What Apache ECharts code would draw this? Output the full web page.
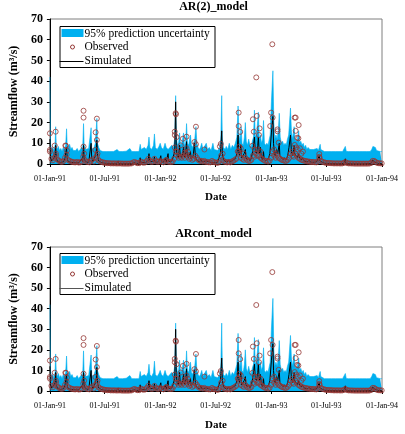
<!DOCTYPE html>
<html><head><meta charset="utf-8">
<script src="https://cdn.jsdelivr.net/npm/echarts@6/dist/echarts.min.js"></script>
<style>html,body{margin:0;padding:0;background:#fff}#c{width:405px;height:434px}</style>
</head><body><div id="c"></div>
<script>
// ---------------- data ----------------
const startDate = '1991-01-01';
const endDate = '1994-01-01';
const tickDates = ['1991-01-01','1991-07-01','1992-01-01','1992-07-01','1993-01-01','1993-07-01','1994-01-01'];
const tickLabels = ['01-Jan-91','01-Jul-91','01-Jan-92','01-Jul-92','01-Jan-93','01-Jul-93','01-Jan-94'];
const panelTitles = ['AR(2)_model', 'ARcont_model'];
const legendNames = ['95% prediction uncertainty', 'Observed', 'Simulated'];
const yTicks = [0, 10, 20, 30, 40, 50, 60, 70];

// upper limit of 95% prediction band: [day since start, m3/s]
const upperBand = [[0,42],[2,10],[5,7],[9,8],[13,6.5],[17,9],[19,18],[21,9],[24,7],[28,8.5],[32,6.5],[36,7.5],[40,6],[44,8],[48,7],[52,9],[55,17],[57,9],[61,8],[65,9.5],[69,7],[73,8],[77,6.5],[81,7],[85,6.5],[90,7.5],[95,6],[100,7],[105,8],[108,7],[111,19.5],[113,9],[117,7],[122,6.5],[128,7.5],[133,8],[136,17.5],[138,8],[142,7],[146,8],[150,10],[155,22],[157,10],[161,8],[166,6.5],[170,7],[175,6],[180,6.5],[186,6],[192,6.5],[198,6],[204,6.8],[210,6],[216,6.2],[222,7],[225,7.5],[228,6],[234,6.5],[240,6],[246,6.8],[252,6.2],[258,6],[264,7.5],[270,6],[276,6.3],[282,6],[288,6.5],[294,6],[298,9.5],[301,7],[306,7],[312,8],[318,7],[324,9],[327,13],[330,8],[336,7],[342,9],[345,14.5],[348,8],[354,7],[360,8.5],[364,10],[368,8],[374,7],[380,10],[384,8],[390,7],[396,8],[402,9],[408,8],[412,12],[415,33],[417,15],[420,10],[424,9],[428,15],[431,9],[435,10],[438,12],[441,15],[444,9],[448,10],[451,19.5],[454,10],[458,9],[461,12],[464,14],[467,9],[471,8],[474,10],[478,12],[482,18],[485,10],[489,8],[493,7],[497,8],[501,10],[505,7],[510,7.5],[516,10],[520,7],[526,8],[532,6.5],[538,10],[542,7],[548,7],[554,6.5],[560,8],[564,12],[567,33],[569,12],[573,8],[578,7],[582,8.5],[587,7],[592,10],[597,7],[602,9],[607,8],[612,10],[617,13],[621,28],[624,14],[627,11],[631,18],[634,10],[638,9],[642,13],[645,20],[648,11],[652,9],[656,12],[660,9],[664,8],[668,11],[672,13],[675,26],[678,13],[682,14],[688,25],[691,12],[695,14],[698,10],[702,12],[705,21],[708,10],[712,9],[716,10],[720,9],[724,12],[727,14],[731,30],[736,45],[739,20],[742,12],[746,14],[750,12],[754,16],[757,24.5],[760,13],[764,10],[768,11],[772,9],[776,10],[780,9],[784,12],[788,14],[794,27],[797,16],[801,12],[806,18],[809,12],[813,11],[817,12],[821,16],[824,10],[828,11],[832,9],[836,10],[840,8],[844,9],[848,7],[852,8],[858,7],[864,6.5],[870,7],[876,6.5],[882,7.5],[886,6.5],[889,8],[892,9.5],[894,7],[900,6.5],[906,6],[912,6.2],[918,6],[924,6.3],[930,6],[936,6.2],[942,6],[948,6.3],[954,6],[960,6.1],[966,6],[972,6.2],[975,8.5],[978,6.1],[985,6],[991,6.2],[997,6],[1003,6.3],[1009,6],[1015,6.2],[1021,6],[1027,6.1],[1033,6],[1039,6.2],[1045,6],[1051,6.3],[1057,6],[1062,7],[1066,8.5],[1070,8],[1074,8],[1078,6.5],[1084,6],[1090,6],[1096,6]];

// simulated streamflow: [day since start, m3/s]
const simulated = [[0,12],[2,3],[6,1.5],[10,1],[14,3],[17,4],[19,9],[21,3],[25,1.2],[30,1],[35,0.8],[40,0.7],[45,1],[50,3],[55,8],[57,3],[60,1.2],[65,1],[70,0.8],[75,1.5],[78,0.7],[85,0.6],[90,0.8],[95,0.5],[100,0.6],[105,2.5],[108,1],[111,9],[113,3],[117,1.2],[122,0.8],[128,0.7],[133,1],[136,10],[138,3],[142,1.2],[146,1],[150,4],[153,6],[155,11.5],[157,4],[161,1.5],[166,1],[172,0.6],[180,0.4],[190,0.3],[200,0.2],[210,0.2],[220,0.15],[225,1.5],[227,0.2],[240,0.15],[255,0.15],[270,0.2],[278,0.6],[285,0.3],[296,0.4],[298,3],[300,0.8],[306,0.5],[315,0.6],[324,1.5],[327,5],[329,1.5],[335,0.8],[342,1],[345,3.5],[347,1],[355,0.8],[362,2],[366,4],[368,1],[375,0.8],[381,3],[384,1],[390,5],[392,1.2],[398,0.8],[403,1.5],[408,1],[412,6],[415,30],[417,8],[420,4],[424,3],[428,9],[430,4],[434,3],[438,5],[441,8],[443,4],[447,3],[451,10.8],[453,5],[457,3],[461,2.5],[464,6],[466,2.5],[470,2],[473,4],[477,10],[480,4],[484,2],[489,1.5],[494,1],[499,2.5],[502,1],[508,0.8],[515,1.5],[520,0.7],[527,1],[534,0.6],[540,1.5],[545,0.6],[552,0.5],[558,0.8],[563,5],[567,16],[569,5],[573,2],[578,1.2],[584,0.8],[590,2],[593,0.8],[600,1.5],[605,1],[611,2.5],[615,4],[618,6],[621,14],[623,6],[626,4],[630,9],[633,3],[637,2.5],[641,5],[645,7],[647,3],[651,2],[656,3],[660,1.5],[665,3],[669,6],[672,9],[675,13],[678,6],[682,5],[686,9],[688,13],[691,5],[695,8],[698,3],[702,2],[705,6],[707,2.5],[712,1.5],[717,2],[722,3],[726,5],[731,15],[736,23],[738,10],[741,5],[744,4],[748,7],[752,5],[757,10],[759,4],[764,3],[769,2],[774,3],[779,2],[785,4],[789,8],[794,14],[797,6],[801,4],[806,9],[808,5],[812,4],[817,3],[821,5],[824,3],[829,2],[834,3],[838,1.5],[843,1.2],[850,1],[856,2],[859,1],[866,0.8],[872,0.7],[880,1],[886,1.5],[889,4],[891,1.5],[896,0.7],[905,0.4],[915,0.3],[930,0.2],[950,0.15],[970,0.2],[975,2.5],[977,0.2],[1000,0.1],[1030,0.1],[1060,0.3],[1066,2],[1070,1],[1076,0.5],[1085,0.2],[1096,0.2]];

// observed low flows, one reading every 5 days from the start date
const observedStepDays = 5;
const observedLow = [
6,2.5,1.8,3,4,2.2,1.5,1.2,1,1.5,
3,4.5,2,1.5,1.2,1,0.8,0.8,1,0.7,
0.8,1.2,3.5,2,1.2,1,0.8,1.5,2.2,1.2,
3,4,2,1.3,1,0.8,0.6,0.5,0.4,0.4,
0.3,0.3,0.3,0.3,0.25,0.25,0.3,0.25,0.2,0.2,
0.2,0.2,0.2,0.25,0.3,0.8,1,0.6,0.4,0.4,
1.2,0.8,0.6,0.8,1.5,2.5,1.5,1,1.2,2.5,
1.5,1,1.2,1.5,1,0.8,1.5,2,1.2,1,
1,1.2,2.5,6,4,3,3.5,3,4,3,
5,3.5,2.5,3,2,2.5,4,3,2,1.5,
1.5,1.2,1.5,1,1,0.8,0.8,1.5,1,0.8,
0.6,0.6,1.5,4,2,1.2,1,0.8,1,0.8,
1.2,1.5,2,2.5,6,5,3,2.5,2,3,
2,1.5,1.5,2,4,3.5,5,4,4,3,
2.5,2,1.5,1.5,1.2,1.5,3,6,4,3,
4,3,2.5,2,1.8,1.5,1.5,2,3,5,
4,3.5,5,4,3,2.5,2,1.8,1.5,1.5,
1.2,1.2,1,1,1,0.8,0.8,1.5,3,1.5,
1,0.8,0.6,0.5,0.5,0.4,0.4,0.3,0.3,0.3,
0.3,0.3,0.25,0.3,0.5,1,0.5,0.3,0.3,0.25,
0.25,0.2,0.2,0.2,0.2,0.2,0.2,0.2,0.2,0.2,
0.2,0.25,0.5,1.5,1.5,1,0.5,0.4,0.3,0.3];

// observed high flows: [day since start, m3/s]
const observedPeaks = [[0,14.8],[0,6.8],[16,8.9],[19,15.6],[20,5],[51,8.9],[53,8.8],[56,6.5],[111,25.7],[111,22.4],[111,8.4],[113,5],[150,6.8],[151,15.3],[155,21.9],[155,11.6],[157,5],
[412,15.6],[412,14],[412,8],[415,24.5],[416,24],[418,13],[420,6],[432,9],[439,12.2],[445,5.5],[451,13.2],[451,7.5],[455,6],[477,10.6],[482,18],[482,9.5],[510,7],[561,8.5],[564,9.7],[570,5],
[622,6],[623,24.8],[623,18.3],[625,8.4],[628,15.5],[630,7.5],[640,5],[668,8.8],[670,21.6],[673,15.6],[676,7],[681,41.8],[683,23.2],[686,7],[690,14],[692,17.2],[695,6],
[727,18.3],[730,24.8],[734,57.8],[735,22.4],[740,7],[745,5],[751,16.7],[751,15.8],[755,10.3],[800,6],
[808,22.4],[808,9.2],[811,22.4],[811,16],[813,8],[816,12.7],[818,7],[820,12.4],[821,18.8],[825,7.6],[830,5],[835,6],[889,4.8],[889,3.5]];

// ---------------- build ----------------
const DAY = 86400000;
const dayOf = s => (Date.parse(s + 'T00:00:00Z') - Date.parse(startDate + 'T00:00:00Z')) / DAY;
const tickDays = tickDates.map(dayOf);
const totalDays = dayOf(endDate);
const observed = observedLow.map((v, i) => [i * observedStepDays, v]).concat(observedPeaks);

const FONT = '"Liberation Serif", "Times New Roman", serif';
const BLUE = '#00B0F0';
const RED = '#953735';

const grids = [
  { left: 45, top: 19, width: 337, height: 145 },
  { left: 45, top: 247, width: 337, height: 144 }
];

function labelFor(v) {
  let best = 0, bd = Infinity;
  tickDays.forEach((d, i) => { const dd = Math.abs(d - v); if (dd < bd) { bd = dd; best = i; } });
  return tickLabels[best];
}

const option = {
  animation: false,
  backgroundColor: '#fff',
  title: panelTitles.map((t, i) => ({
    text: t, left: 213.5, textAlign: 'center', top: i === 0 ? 1 : 228, padding: 0,
    textStyle: { fontFamily: FONT, fontWeight: 'bold', fontSize: 12, color: '#000' }
  })),
  grid: grids.map(g => Object.assign({ show: true, borderColor: '#7f7f7f', borderWidth: 1, backgroundColor: 'transparent' }, g)),
  xAxis: grids.map((g, i) => ({
    type: 'value', gridIndex: i, min: 0, max: totalDays,
    name: 'Date', nameLocation: 'middle', nameGap: i === 0 ? 28 : 29,
    nameTextStyle: { fontFamily: FONT, fontWeight: 'bold', fontSize: 11, color: '#000' },
    axisLine: { show: true, onZero: false, lineStyle: { color: '#000', width: 1 } },
    axisTick: { show: true, inside: false, length: 3, customValues: tickDays, lineStyle: { color: '#000' } },
    axisLabel: { customValues: tickDays, margin: 11, fontFamily: FONT, fontSize: 8, color: '#000', formatter: v => labelFor(v), showMinLabel: true, showMaxLabel: true },
    splitLine: { show: false }
  })),
  yAxis: grids.map((g, i) => ({
    type: 'value', gridIndex: i, min: 0, max: 70, interval: 10,
    name: 'Streamflow (m³/s)', nameLocation: 'middle', nameGap: 26,
    nameTextStyle: { fontFamily: FONT, fontWeight: 'bold', fontSize: 12, color: '#000' },
    axisLine: { show: true, lineStyle: { color: '#000', width: 1 } },
    axisTick: { show: true, inside: false, length: 3, lineStyle: { color: '#000' } },
    axisLabel: { margin: 7, fontFamily: FONT, fontWeight: 'bold', fontSize: 12, color: '#000', formatter: v => (yTicks.includes(v) ? String(v) : '') },
    splitLine: { show: false }
  })),
  series: []
};

[0, 1].forEach(i => {
  option.series.push({
    name: legendNames[0], type: 'line', xAxisIndex: i, yAxisIndex: i,
    data: upperBand, symbol: 'none', showSymbol: false, z: 1,
    lineStyle: { width: 0.6, color: BLUE }, areaStyle: { color: BLUE, opacity: 1 }
  });
  option.series.push({
    name: legendNames[2], type: 'line', xAxisIndex: i, yAxisIndex: i,
    data: simulated, symbol: 'none', showSymbol: false, z: 2,
    lineStyle: { width: 1, color: '#000' }
  });
  option.series.push({
    name: legendNames[1], type: 'scatter', xAxisIndex: i, yAxisIndex: i,
    data: observed, symbol: 'circle', symbolSize: 5, z: 3,
    itemStyle: { color: 'rgba(0,0,0,0)', borderColor: RED, borderWidth: 1 }
  });
});

function legendGroup(top, simColor) {
  const ts = { font: '11.5px ' + FONT, fill: '#000', verticalAlign: 'middle', align: 'left' };
  return {
    type: 'group', left: 57, top: top, z: 100,
    children: [
      { type: 'rect', shape: { x: 0.5, y: 0.5, width: 155, height: 41 }, style: { fill: '#fff', stroke: '#000', lineWidth: 1 } },
      { type: 'rect', shape: { x: 2, y: 3, width: 22, height: 8 }, style: { fill: BLUE } },
      { type: 'text', x: 25, y: 7.5, style: Object.assign({ text: legendNames[0] }, ts) },
      { type: 'circle', shape: { cx: 13, cy: 21, r: 2 }, style: { fill: 'none', stroke: RED, lineWidth: 1 } },
      { type: 'text', x: 25, y: 21, style: Object.assign({ text: legendNames[1] }, ts) },
      { type: 'line', shape: { x1: 0, y1: 35.5, x2: 24, y2: 35.5 }, style: { stroke: simColor, lineWidth: 1 } },
      { type: 'text', x: 25, y: 35, style: Object.assign({ text: legendNames[2] }, ts) }
    ]
  };
}
option.graphic = [legendGroup(26, '#000'), legendGroup(253, '#555')];

const chart = echarts.init(document.getElementById('c'), null, { renderer: 'canvas' });
chart.setOption(option);
</script>
</body></html>
